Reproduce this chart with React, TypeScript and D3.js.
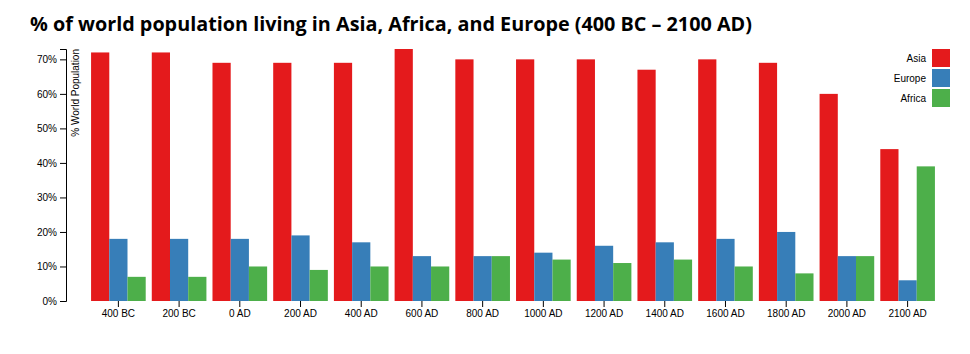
import { useEffect, useRef } from 'react';
import * as d3 from 'd3';

const PERIODS = ['400 BC', '200 BC', '0 AD', '200 AD', '400 AD', '600 AD', '800 AD', '1000 AD', '1200 AD', '1400 AD', '1600 AD', '1800 AD', '2000 AD', '2100 AD'];
const SERIES = ['Asia', 'Europe', 'Africa'];
const ASIA = [72, 72, 69, 69, 69, 73, 70, 70, 70, 67, 70, 69, 60, 44];
const EUROPE = [18, 18, 18, 19, 17, 13, 13, 14, 16, 17, 18, 20, 13, 6];
const AFRICA = [7, 7, 10, 9, 10, 10, 13, 12, 11, 12, 10, 8, 13, 39];
const COLORS = ['#e41a1c', '#377eb8', '#4daf4a'];
const TITLE = '% of world population living in Asia, Africa, and Europe (400 BC – 2100 AD)';

const App = () => {
    const svgRef = useRef<SVGSVGElement>(null);

    useEffect(() => {
        if (!svgRef.current) return;
        const svg = d3.select(svgRef.current);
        svg.selectAll('*').remove();

        const values = [ASIA, EUROPE, AFRICA];
        const rows = PERIODS.map((p, i) => ({
            period: p,
            vals: SERIES.map((s, j) => ({ name: s, value: values[j][i] })),
        }));

        // layout (page coords)
        const left = 66;
        const top = 49;
        const bottom = 301;
        const legendRight = 950;

        const x0 = d3.scaleBand().domain(PERIODS).range([85, 941]).paddingInner(0.1).paddingOuter(0.1);
        const x1 = d3.scaleBand().domain(SERIES).range([0, x0.bandwidth()]);
        const y = d3.scaleLinear().domain([0, 73]).range([bottom, top]);
        const color = d3.scaleOrdinal<string, string>().domain(SERIES).range(COLORS);

        // title
        svg.append('text')
            .attr('x', 30)
            .attr('y', 31)
            .style('font-family', '"Open Sans", sans-serif')
            .style('font-weight', 700)
            .style('font-size', '19.8px')
            .attr('fill', '#000')
            .text(TITLE);

        // x axis
        const xAxis = svg.append('g')
            .attr('transform', `translate(0,${bottom})`)
            .call(d3.axisBottom(x0).tickSizeOuter(0));
        xAxis.select('.domain').remove();
        xAxis.selectAll('text').style('font-family', '"Liberation Sans", Arial, sans-serif').style('font-size', '10px');

        // y axis
        const yAxis = svg.append('g')
            .attr('transform', `translate(${left},0)`)
            .call(d3.axisLeft(y).tickValues(d3.range(0, 71, 10)).tickFormat((d) => `${d}%`));
        yAxis.selectAll('text').style('font-family', '"Liberation Sans", Arial, sans-serif').style('font-size', '10px');

        svg.append('text')
            .attr('transform', `translate(${left},${top}) rotate(-90)`)
            .attr('y', 6)
            .attr('dy', '.71em')
            .style('text-anchor', 'end')
            .style('font-family', '"Liberation Sans", Arial, sans-serif')
            .style('font-size', '10px')
            .text('% World Population');

        // bars
        const groups = svg.selectAll('.group')
            .data(rows)
            .enter()
            .append('g')
            .attr('class', 'group')
            .attr('transform', (d) => `translate(${x0(d.period)},0)`);

        groups.selectAll('rect')
            .data((d) => d.vals)
            .enter()
            .append('rect')
            .attr('x', (d) => x1(d.name)!)
            .attr('width', x1.bandwidth())
            .attr('y', (d) => y(d.value))
            .attr('height', (d) => bottom - y(d.value))
            .attr('fill', (d) => color(d.name));

        // legend
        const legend = svg.selectAll('.legend')
            .data(SERIES)
            .enter()
            .append('g')
            .attr('class', 'legend')
            .attr('transform', (d, i) => `translate(0,${top + i * 20})`);

        legend.append('rect')
            .attr('x', legendRight - 18)
            .attr('width', 18)
            .attr('height', 18)
            .attr('fill', (d) => color(d));

        legend.append('text')
            .attr('x', legendRight - 24)
            .attr('y', 9)
            .attr('dy', '.35em')
            .style('text-anchor', 'end')
            .style('font-family', '"Liberation Sans", Arial, sans-serif')
            .style('font-size', '10px')
            .text((d) => d);
    }, []);

    return (
        <svg
            ref={svgRef}
            width={970}
            height={354}
            style={{ position: 'absolute', left: 0, top: 0, background: '#fff' }}
        ></svg>
    );
};

export default App;
